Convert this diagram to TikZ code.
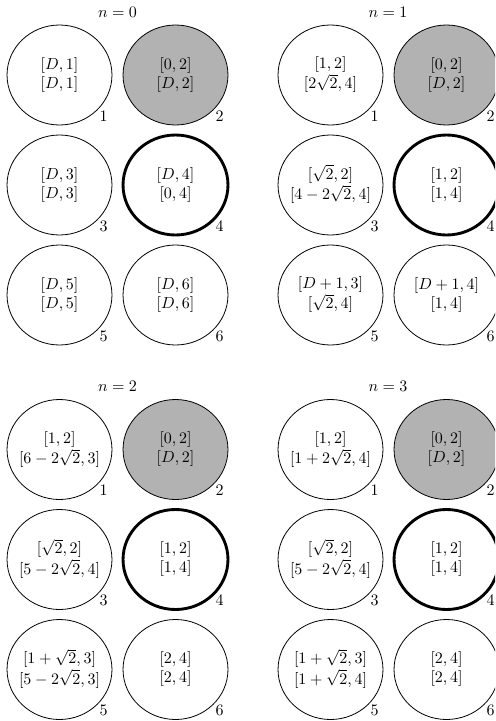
\documentclass[tikz,border=0pt]{standalone}
\usetikzlibrary{shapes.geometric}
\tikzset{
  cellbox/.style={ellipse, draw, line width=0.5pt, minimum width=65.6pt, minimum height=62.5pt, inner sep=0pt},
  shaded/.style={fill=black!30},
  heavy/.style={line width=1.8pt},
  numlab/.style={inner sep=0pt},
  titlelab/.style={inner sep=0pt}
}
\newcommand\cellnode[7]{%
  \node[cellbox,#7] (#1) at (#2,#3) {\makebox[0pt]{$\begin{array}{@{}c@{}}{#4}\\{#5}\end{array}$}};
  \node[numlab] (#1n) at (#2+44,#3+41) {#6};}
\begin{document}
\begin{tikzpicture}[x=0.625pt,y=-0.625pt]
\useasboundingbox (0,0) rectangle (495,721);
\clip (0,0) rectangle (495,721);
% n = 0
\node[titlelab] (ta) at (117.5,12) {$n=0$};
\cellnode{a1}{59.5}{75}{[D,1]}{[D,1]}{1}{}
\cellnode{a2}{175.5}{75}{[0,2]}{[D,2]}{2}{shaded}
\cellnode{a3}{59.5}{185}{[D,3]}{[D,3]}{3}{}
\cellnode{a4}{175.5}{185}{[D,4]}{[0,4]}{4}{heavy}
\cellnode{a5}{59.5}{295}{[D,5]}{[D,5]}{5}{}
\cellnode{a6}{175.5}{295}{[D,6]}{[D,6]}{6}{}
% n = 1
\node[titlelab] (tb) at (388,12) {$n=1$};
\cellnode{b1}{330.5}{75}{[1,2]}{[2\sqrt{2},4]}{1}{}
\cellnode{b2}{446.5}{75}{[0,2]}{[D,2]}{2}{shaded}
\cellnode{b3}{330.5}{185}{[\sqrt{2},2]}{[4-2\sqrt{2},4]}{3}{}
\cellnode{b4}{446.5}{185}{[1,2]}{[1,4]}{4}{heavy}
\cellnode{b5}{330.5}{295}{[D+1,3]}{[\sqrt{2},4]}{5}{}
\cellnode{b6}{446.5}{295}{[D+1,4]}{[1,4]}{6}{}
% n = 2
\node[titlelab] (tc) at (117.5,386) {$n=2$};
\cellnode{c1}{59.5}{449.5}{[1,2]}{[6-2\sqrt{2},3]}{1}{}
\cellnode{c2}{175.5}{449.5}{[0,2]}{[D,2]}{2}{shaded}
\cellnode{c3}{59.5}{559.5}{[\sqrt{2},2]}{[5-2\sqrt{2},4]}{3}{}
\cellnode{c4}{175.5}{559.5}{[1,2]}{[1,4]}{4}{heavy}
\cellnode{c5}{59.5}{669.5}{[1+\sqrt{2},3]}{[5-2\sqrt{2},3]}{5}{}
\cellnode{c6}{175.5}{669.5}{[2,4]}{[2,4]}{6}{}
% n = 3
\node[titlelab] (td) at (388,386) {$n=3$};
\cellnode{d1}{330.5}{449.5}{[1,2]}{[1+2\sqrt{2},4]}{1}{}
\cellnode{d2}{446.5}{449.5}{[0,2]}{[D,2]}{2}{shaded}
\cellnode{d3}{330.5}{559.5}{[\sqrt{2},2]}{[5-2\sqrt{2},4]}{3}{}
\cellnode{d4}{446.5}{559.5}{[1,2]}{[1,4]}{4}{heavy}
\cellnode{d5}{330.5}{669.5}{[1+\sqrt{2},3]}{[1+\sqrt{2},4]}{5}{}
\cellnode{d6}{446.5}{669.5}{[2,4]}{[2,4]}{6}{}
\end{tikzpicture}
\end{document}
